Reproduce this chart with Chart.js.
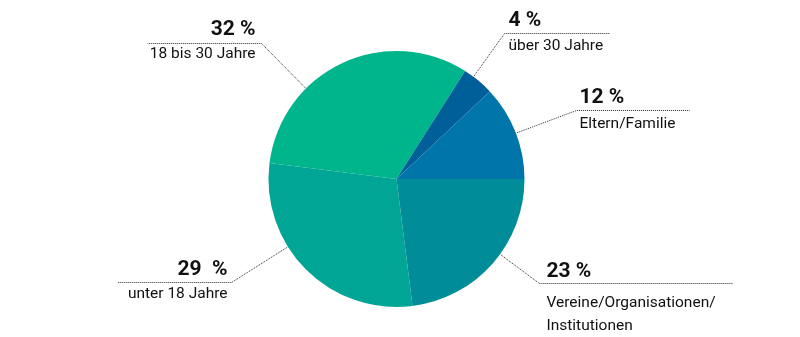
<!DOCTYPE html>
<html>
<head>
<meta charset="utf-8">
<script src="https://cdn.jsdelivr.net/npm/chart.js@4/dist/chart.umd.min.js"></script>
<style>
  html, body { margin: 0; padding: 0; background: #ffffff; }
  #wrap { width: 800px; height: 337px; position: relative; }
</style>
</head>
<body>
<div id="wrap"><canvas id="c" width="800" height="337"></canvas></div>
<script>
// Data (clockwise from 3 o'clock)
const categories = ['Vereine/Organisationen/\nInstitutionen', 'unter 18 Jahre', '18 bis 30 Jahre', 'über 30 Jahre', 'Eltern/Familie'];
const values = [23, 29, 32, 4, 12];
const percentLabels = ['23 %', '29  %', '32 %', '4 %', '12 %'];
const colors = ['#008c99', '#00a596', '#00b48c', '#005f99', '#0075aa'];

// Label layout (relative to pie centre): anchor angle on rim, elbow, line end, text anchor
const labelLayout = [
  { angle: 36,  elbow: [143, 104], lineEnd: 336, textX: 150, align: 'left',  pctY: 98,  labY: [128, 151] },
  { angle: 148, elbow: [-165, 103], lineEnd: -279, textX: -169, align: 'right', pctY: 96, labY: [119] },
  { angle: 225, elbow: [-135, -136], lineEnd: -249, textX: -141, align: 'right', pctY: -144, labY: [-121] },
  { angle: 307, elbow: [108, -146], lineEnd: 213, textX: 112, align: 'left', pctY: -153, labY: [-129] },
  { angle: 339, elbow: [180, -69], lineEnd: 293, textX: 183, align: 'left', pctY: -76, labY: [-51] }
];

const labelPlugin = {
  id: 'leaderLabels',
  afterDraw(chart) {
    const meta = chart.getDatasetMeta(0);
    const arc = meta.data[0];
    const cx = arc.x, cy = arc.y, r = arc.outerRadius;
    const ctx = chart.ctx;
    ctx.save();
    labelLayout.forEach((L, i) => {
      const a = L.angle * Math.PI / 180;
      const ax = cx + (r + 1) * Math.cos(a), ay = cy + (r + 1) * Math.sin(a);
      const ex = cx + L.elbow[0], ey = cy + L.elbow[1];
      ctx.beginPath();
      ctx.setLineDash([1, 1]);
      ctx.lineWidth = 1;
      ctx.strokeStyle = '#2a2a2a';
      ctx.moveTo(ax, ay);
      ctx.lineTo(ex, ey + 0.5);
      ctx.lineTo(cx + L.lineEnd, ey + 0.5);
      ctx.stroke();
      ctx.setLineDash([]);
      ctx.fillStyle = '#111111';
      ctx.textAlign = L.align;
      ctx.textBaseline = 'alphabetic';
      ctx.font = 'bold 21px Roboto';
      ctx.fillText(percentLabels[i], cx + L.textX, cy + L.pctY);
      ctx.font = '15.5px Roboto';
      const lines = categories[i].split('\n');
      lines.forEach((t, j) => {
        ctx.fillText(t, cx + L.textX, cy + L.labY[j]);
      });
    });
    ctx.restore();
  }
};

new Chart(document.getElementById('c'), {
  type: 'pie',
  data: {
    labels: categories,
    datasets: [{
      data: values,
      backgroundColor: colors,
      borderWidth: 0
    }]
  },
  options: {
    responsive: false,
    animation: false,
    rotation: 90,
    layout: { padding: { top: 51, bottom: 30, left: 0, right: 7 } },
    plugins: { legend: { display: false }, tooltip: { enabled: false } }
  },
  plugins: [labelPlugin]
});
</script>
</body>
</html>
